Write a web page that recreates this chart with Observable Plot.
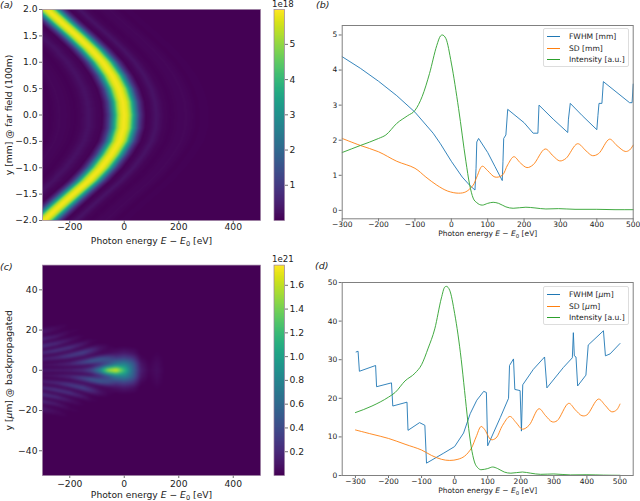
<!DOCTYPE html>
<html><head><meta charset="utf-8">
<script src="https://cdn.jsdelivr.net/npm/d3@7"></script>
<script src="https://cdn.jsdelivr.net/npm/@observablehq/plot@0.6"></script>
<style>
html,body{margin:0;padding:0;background:#fff}
#page{position:relative;width:640px;height:501px;overflow:hidden;font-family:"DejaVu Sans",sans-serif;color:#222}
#page>svg{position:absolute}
.tag{position:absolute;font-size:9.5px;line-height:10px;font-style:italic;white-space:nowrap}
.exp{position:absolute;font-size:8.6px;line-height:10px;white-space:nowrap}
.legend{position:absolute;width:84px;height:37px;background:#fff;border:1px solid #ddd;border-radius:2px;font-size:7.6px}
.legend div{position:absolute;left:25px;line-height:10px;white-space:nowrap}
.legend i{position:absolute;left:3px;width:13px;height:1px}
</style></head><body><div id="page"></div>
<script>
// ---------- panel (a): ridge in the far field (value 1e18) ----------
const ridgeRowY = [2,1.75,1.5,1.25,1,0.75,0.5,0.25,0,-0.25,-0.5,-0.75,-1,-1.25,-1.5,-1.75,-2];
const ridgeRowE = [-282,-229,-174,-123,-79,-45,-20,-5,0,-3,-18,-48,-85,-131,-187,-242,-295];
const profileOffset = [-420,-350,-320,-270,-240,-215,-180,-160,-130,-100,-80,-68,-56,-45,-34,-23,-12,0,12,23,34,45,56,68,80,95,118,145,170,200,230,265,300,350];
const profileLevel  = [0,0.02,0.05,0.02,0.1,0.08,0.02,0.08,0.28,0.09,0.04,0.45,1.1,2.3,3.6,5,5.7,5.9,5.7,5,3.6,2.3,1.1,0.45,0.04,0.09,0.3,0.08,0.02,0.08,0.1,0.02,0.03,0];

// ---------- panel (b) ----------
const fwhmMmE = [-300,-250,-200,-150,-100,-50,-30,0,30,50,65,68,70,75,100,120,140,142,144,150,155,200,225,238,241,280,320,322,327,360,400,403,406,414,418,490,497,500];
const fwhmMm  = [4.38,4.05,3.68,3.27,2.8,2.2,1.9,1.4,0.95,0.72,0.58,1.2,1.95,2.05,1.65,1.25,0.85,1.4,2.05,2.15,2.88,2.5,2.2,2.2,3,2.6,2.22,2.6,3.05,2.7,2.3,2.7,3.05,3.05,3.67,3.07,3.07,3.6];
const sdMmE = [-300,-250,-200,-150,-100,-70,-40,-10,20,40,60,70,85,100,120,140,155,172,190,208,225,258,280,298,315,347,370,388,405,435,455,478,490,500];
const sdMm  = [2.05,1.85,1.67,1.4,1.2,0.95,0.72,0.55,0.49,0.53,0.72,0.95,1.26,1.13,0.95,1,1.3,1.53,1.35,1.22,1.3,1.75,1.55,1.41,1.48,1.9,1.7,1.56,1.62,2.03,1.85,1.68,1.72,1.86];
const intFarE = [-300,-250,-200,-180,-150,-120,-100,-80,-60,-40,-30,-25,-15,0,20,40,50,60,70,85,100,115,130,150,170,205,230,260,295,340,400,450,500];
const intFar  = [1.65,1.85,2.05,2.15,2.48,2.7,2.85,3.25,3.9,4.7,4.97,5,4.9,4.2,2.9,1.4,0.75,0.35,0.22,0.15,0.2,0.23,0.2,0.1,0.06,0.09,0.07,0.04,0.05,0.03,0.03,0.02,0.02];

// ---------- panel (c): fringe rows ----------
// columns of photon energy; each row gives a fringe's |y| [µm] and its level [1e21] along them
const fringeE = [-300,-250,-200,-150,-120,-90,-60,-30,0,30,60,90,120,150];
const fringeRowY = [
 [0,0,0,0,0,0,0,0,0,0,0,0,0,0],
 [1.2,1.3,1.5,2,2.4,2.8,3,3,3,3,3,3,3,3],
 [2.5,2.7,3,3.9,4.6,5.4,6,6,6,6,6,6,6,6],
 [4,4.5,5.2,6.4,7.2,8,8.5,8.5,8.5,8.5,8.5,8.5,8.5,8.5],
 [5.5,6.2,7.3,8.9,10,11,12,12,12,12,12,12,12,12],
 [7.1,8,9.3,11,12.5,13.5,14,14,14,14,14,14,14,14],
 [8.7,9.8,11.3,13.2,14.5,15.5,16,16,16,16,16,16,16,16],
 [10.3,11.5,13,15,16.5,17.5,18,18,18,18,18,18,18,18],
 [12,13.3,15,17,18.5,19.5,20,20,20,20,20,20,20,20],
 [13.8,15,17,19,20.5,21.5,22,22,22,22,22,22,22,22],
 [15.5,16.8,19,21,22.5,23.5,24,24,24,24,24,24,24,24],
 [17.2,18.5,21,23,24.5,25.5,26,26,26,26,26,26,26,26],
 [19.2,20.4,23,25,26.5,27.5,28,28,28,28,28,28,28,28],
 [21.5,23,25,27,28.5,29.5,30,30,30,30,30,30,30,30]];
const fringeRowLevel = [
 [0.15,0.15,0.18,0.25,0.42,0.85,1.6,1.77,1.22,0.6,0.14,0.02,0.06,0],
 [0.01,0.01,0.01,0.02,0.05,0.2,0.42,0.72,0.8,0.55,0.1,0.01,0.05,0],
 [0.08,0.12,0.2,0.4,0.52,0.52,0.42,0.32,0.36,0.28,0.03,0,0.03,0],
 [0.01,0.01,0.01,0.02,0.02,0.02,0.04,0.08,0.12,0.08,0,0,0.01,0],
 [0.17,0.22,0.34,0.38,0.25,0.1,0.02,0,0,0,0,0,0,0],
 [0.01,0.01,0.01,0.01,0,0,0,0,0,0,0,0,0,0],
 [0.24,0.3,0.28,0.12,0.03,0,0,0,0,0,0,0,0,0],
 [0.01,0.01,0.01,0,0,0,0,0,0,0,0,0,0,0],
 [0.28,0.24,0.1,0.01,0,0,0,0,0,0,0,0,0,0],
 [0.01,0.01,0,0,0,0,0,0,0,0,0,0,0,0],
 [0.22,0.14,0.03,0,0,0,0,0,0,0,0,0,0,0],
 [0,0,0,0,0,0,0,0,0,0,0,0,0,0],
 [0.13,0.06,0,0,0,0,0,0,0,0,0,0,0,0],
 [0,0,0,0,0,0,0,0,0,0,0,0,0,0]];

// ---------- panel (d) ----------
const fwhmUmE = [-298,-292,-288,-239,-236,-191,-187,-144,-141,-106,-90,-85,-33,0,27,47,67,88,96,100,138,163,166,178,182,198,202,206,238,272,279,329,356,359,362,367,372,397,404,450,456,470,500];
const fwhmUm  = [32,32.2,27,28.5,23,24,18,19,11.7,13.7,13,3.2,5.8,7.5,11,16,19.5,21.8,21.5,7.7,15,20,28.5,30.2,22.3,22,11.5,23.5,27.5,30.7,22.7,28,30.5,37,31,30.7,23.2,26,33.8,37.5,31,31.5,34.2];
const sdUmE = [-300,-250,-200,-150,-100,-70,-40,-15,10,30,50,65,80,90,110,125,145,167,185,205,225,255,275,295,310,345,365,385,400,435,455,475,490,500];
const sdUm  = [11.8,10.7,9.6,8.1,6.6,5.2,4.2,3.9,4.2,5,7,10,12.7,12,9.3,9.7,13,15.3,13.8,12,13,17.3,15.5,13.9,14.2,18.7,17,15.5,15.7,19.8,18.2,16.5,17,18.5];
const intBackE = [-300,-250,-200,-180,-150,-120,-100,-80,-60,-40,-30,-25,-15,0,20,30,40,50,60,70,80,100,115,130,150,170,205,230,260,300,350,400,450,500];
const intBack  = [16.3,18,20.3,21.5,24.5,26.5,28.7,33,38,46,48.8,49,48,42,30,22,14,7.5,3.5,2,1.5,1.8,2.2,1.8,0.9,0.6,0.9,0.6,0.3,0.4,0.15,0.2,0.1,0.05];

const energyLabel = "Photon energy E − E0 [eV]";
const colors = {fwhm:"#1f77b4", sd:"#ff7f0e", intensity:"#2ca02c"};
const page = document.getElementById("page");
const spine = "#808080";

function place(svg,left,top){svg.style.left=left+"px";svg.style.top=top+"px";
  svg.querySelectorAll("text").forEach(t=>{
    if(t.textContent===energyLabel) t.innerHTML='Photon energy <tspan font-style="italic">E</tspan> − <tspan font-style="italic">E</tspan><tspan dy="2" font-size="0.72em">0</tspan><tspan dy="-2"> [eV]</tspan>';
    if(t.textContent==="y [μm] @ backpropagated") t.innerHTML='y [<tspan font-style="italic">μ</tspan>m] @ backpropagated';
  });
  page.appendChild(svg);}

function axes(o){return [
  Plot.axisX({ticks:o.xticks,tickSize:3,tickPadding:o.pad,fontSize:o.fs,label:energyLabel,labelAnchor:"center",labelArrow:"none",labelOffset:o.xoff,stroke:"#333",strokeWidth:.7}),
  Plot.axisY({ticks:o.yticks,tickSize:3,tickPadding:2,fontSize:o.fs,tickFormat:o.yfmt,label:o.ylabel??null,labelAnchor:"center",labelArrow:"none",labelOffset:o.yoff,stroke:"#333",strokeWidth:.7})
];}

// ---------- heat maps ----------
const ridgeAt = d3.scaleLinear(ridgeRowY, ridgeRowE);
const levelAt = d3.scaleLinear(profileOffset, profileLevel).clamp(true);
const svgA = Plot.plot({width:268,height:250,marginLeft:42,marginRight:8,marginTop:9,marginBottom:30,
  style:{background:"transparent",color:"#222",fontFamily:"DejaVu Sans"},
  x:{domain:[-300,500]},y:{domain:[-2,2]},color:{type:"linear",scheme:"viridis",domain:[0,5.99]},
  marks:[
    Plot.raster({x1:-300,x2:500,y1:-2,y2:2,fill:(E,y)=>levelAt(E-ridgeAt(y)),pixelSize:1,imageRendering:"auto"}),
    ...axes({xticks:[-200,0,200,400],yticks:d3.range(-2,2.01,.5),fs:9.2,yfmt:d3.format(".1f"),ylabel:"y [mm] @ far field (100m)",yoff:37,xoff:23,pad:0}),
    Plot.frame({stroke:"#9a7fa0",strokeWidth:.7})
  ]});
place(svgA,0,0);

const rowYAt = fringeRowY.map(r=>d3.scaleLinear(fringeE,r).clamp(true));
const rowLevelAt = fringeRowLevel.map(r=>d3.scaleLinear(fringeE,r).clamp(true));
function fringeField(E,y){
  if(E>fringeE[fringeE.length-1]) return 0;
  const a=Math.abs(y);
  let lowY=rowYAt[0](E), lowV=rowLevelAt[0](E);
  for(let k=1;k<rowYAt.length;k++){
    const hiY=rowYAt[k](E), hiV=rowLevelAt[k](E);
    if(a<=hiY) return lowV+(hiV-lowV)*(a-lowY)/(hiY-lowY);
    lowY=hiY; lowV=hiV;
  }
  return 0;
}
const svgC = Plot.plot({width:268,height:251,marginLeft:42,marginRight:8,marginTop:14.6,marginBottom:26,
  style:{background:"transparent",color:"#222",fontFamily:"DejaVu Sans"},
  x:{domain:[-300,500]},y:{domain:[-52.3,52.3]},color:{type:"linear",scheme:"viridis",domain:[0,1.77]},
  marks:[
    Plot.raster({x1:-300,x2:500,y1:-52.3,y2:52.3,fill:fringeField,pixelSize:1,blur:0.6}),
    ...axes({xticks:[-200,0,200,400],yticks:[-40,-20,0,20,40],fs:9.2,ylabel:"y [μm] @ backpropagated",yoff:37,xoff:22,pad:1.5}),
    Plot.frame({stroke:"#9a7fa0",strokeWidth:.7})
  ]});
place(svgC,0,250);

// ---------- colour bars ----------
function colorbar(max,ticks,fmt,height,top,bottom){
  return Plot.plot({width:44,height,marginLeft:5.5,marginRight:28,marginTop:top,marginBottom:bottom,
    style:{background:"transparent",color:"#222",fontFamily:"DejaVu Sans"},
    x:{domain:[0,1],axis:null},y:{domain:[0,max]},color:{type:"linear",scheme:"viridis",domain:[0,max]},
    marks:[
      Plot.raster({x1:0,x2:1,y1:0,y2:max,fill:(x,y)=>y,pixelSize:1}),
      Plot.axisY({anchor:"right",ticks,tickFormat:fmt,tickSize:3,tickPadding:2,fontSize:9.2,label:null,stroke:"#333",strokeWidth:.7}),
      Plot.frame({stroke:"#9a7fa0",strokeWidth:.7})
    ]});
}
place(colorbar(5.99,[1,2,3,4,5],d3.format("d"),250,9,30),268,0);
place(colorbar(1.77,[.2,.4,.6,.8,1,1.2,1.4,1.6],d3.format(".1f"),251,14.6,26),268,250);

// ---------- line panels ----------
function series(xs,ys,stroke,curve){return Plot.line(xs.map((x,i)=>[x,ys[i]]),{x:d=>d[0],y:d=>d[1],stroke,strokeWidth:.9,curve});}
const svgB = Plot.plot({width:322,height:250,marginLeft:23.7,marginRight:7.3,marginTop:25,marginBottom:31.7,
  style:{background:"transparent",color:"#222",fontFamily:"DejaVu Sans"},
  x:{domain:[-300,500]},y:{domain:[-0.24,5.27]},
  marks:[
    series(fwhmMmE,fwhmMm,colors.fwhm,"linear"),
    series(sdMmE,sdMm,colors.sd,"catmull-rom"),
    series(intFarE,intFar,colors.intensity,"monotone-x"),
    ...axes({xticks:d3.range(-300,501,100),yticks:[0,1,2,3,4,5],fs:7.5,yfmt:d3.format("d"),xoff:17.5,pad:0}),
    Plot.frame({stroke:spine,strokeWidth:1})
  ]});
place(svgB,318,0);
const svgD = Plot.plot({width:322,height:251,marginLeft:23.7,marginRight:7.3,marginTop:32,marginBottom:26,
  style:{background:"transparent",color:"#222",fontFamily:"DejaVu Sans"},
  x:{domain:[-340,540]},y:{domain:[0,50]},
  marks:[
    series(fwhmUmE,fwhmUm,colors.fwhm,"linear"),
    series(sdUmE,sdUm,colors.sd,"catmull-rom"),
    series(intBackE,intBack,colors.intensity,"monotone-x"),
    ...axes({xticks:d3.range(-300,501,100),yticks:[0,10,20,30,40,50],fs:7.5,yfmt:d3.format("d"),xoff:17.5,pad:0}),
    Plot.frame({stroke:spine,strokeWidth:1})
  ]});
place(svgD,318,250);

// ---------- HTML text: panel tags, offsets, legends ----------
function add(cls,txt,l,t){const e=document.createElement("div");e.className=cls;e.textContent=txt;e.style.left=l+"px";e.style.top=t+"px";page.appendChild(e);}
add("tag","(a)",0,0);add("tag","(b)",316,0);add("tag","(c)",0,262);add("tag","(d)",315,261);
add("exp","1e18",272,-1);add("exp","1e21",272,254);
function legend(t,labels){const b=document.createElement("div");b.className="legend";b.style.left="543px";b.style.top=t+"px";
  [colors.fwhm,colors.sd,colors.intensity].forEach((c,i)=>{
    const l=document.createElement("i");l.style.background=c;l.style.top=(7+i*11.6)+"px";b.appendChild(l);
    const d=document.createElement("div");d.innerHTML=labels[i];d.style.top=(3+i*11.6)+"px";b.appendChild(d);});
  page.appendChild(b);}
legend(28,["FWHM [mm]","SD [mm]","Intensity [a.u.]"]);
legend(286,['FWHM [<em>μ</em>m]','SD [<em>μ</em>m]',"Intensity [a.u.]"]);
</script></body></html>
